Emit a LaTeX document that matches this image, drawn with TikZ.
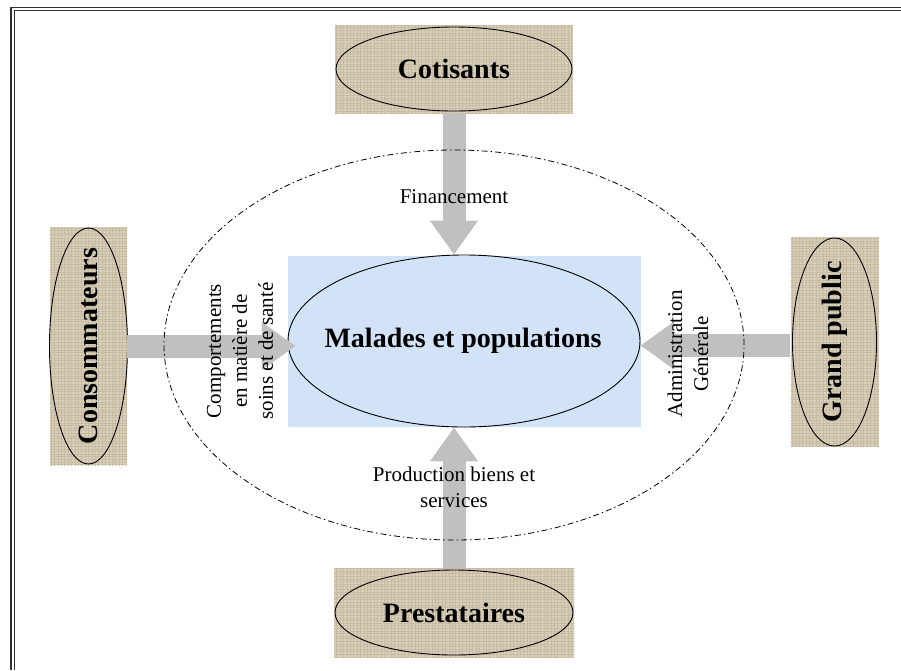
\documentclass[tikz,border=0pt]{standalone}
\usepackage{fontspec}
\setmainfont{Liberation Serif}
\usetikzlibrary{arrows.meta,shapes.geometric,patterns.meta}

\definecolor{burlap}{RGB}{218,208,186}
\definecolor{burlapdark}{RGB}{198,187,163}
\definecolor{paleblue}{RGB}{210,227,247}
\definecolor{flowgray}{RGB}{192,192,192}
\definecolor{framegray}{RGB}{50,50,50}

\tikzset{
  actorbox/.style={rectangle, fill=burlap, inner sep=0pt,
    postaction={pattern={Lines[angle=0,distance=2.6pt,line width=0.7pt]}, pattern color=burlapdark},
    postaction={pattern={Lines[angle=90,distance=3.4pt,line width=0.6pt]}, pattern color=burlapdark}},
  actorring/.style={ellipse, draw=black, line width=0.9pt, inner sep=0pt},
  bigword/.style={font=\fontsize{28}{32}\selectfont\bfseries, inner sep=0pt},
  corebox/.style={rectangle, fill=paleblue, inner sep=0pt},
  flow/.style={draw=flowgray, line width=23pt,
    -{Triangle[width=46pt,length=34pt]}},
  flowlabel/.style={align=center, font=\fontsize{21}{26}\selectfont, inner sep=0pt},
  scope ring/.style={draw=black, line width=0.8pt,
    dash pattern=on 6pt off 3pt on 1.5pt off 3pt},
}

\begin{document}
\begin{tikzpicture}[x=1pt, y=-1pt]
\useasboundingbox (0,0) rectangle (901,670);

% double frame along the top and left edges
\draw[framegray, line width=1.6pt] (11,670) -- (11,7.5) -- (901,7.5);
\draw[framegray, line width=1.6pt] (14.5,670) -- (14.5,10.5) -- (901,10.5);

% central node
\node[corebox, minimum width=353pt, minimum height=171pt] (core) at (464.5,341.5) {};
\node[actorring, minimum width=352pt, minimum height=172pt] (mal) at (464,341) {};
\node[bigword] (maltxt) at (463,341) {Malades et populations};

% surrounding actors
\node[actorbox, minimum width=238pt, minimum height=88pt] (cot) at (454,69) {};
\node[actorring, minimum width=236pt, minimum height=84pt] (cotring) at (cot) {};
\node[bigword] (cottxt) at (cot) {Cotisants};

\node[actorbox, minimum width=240pt, minimum height=89pt] (pre) at (454,612.5) {};
\node[actorring, minimum width=238pt, minimum height=85pt] (prering) at (pre) {};
\node[bigword] (pretxt) at (pre) {Prestataires};

\node[actorbox, minimum width=77pt, minimum height=238pt] (cons) at (88.5,346) {};
\node[actorring, minimum width=78pt, minimum height=236pt] (consring) at (cons) {};
\node[bigword, rotate=90] (constxt) at (cons) {Consommateurs};

\node[actorbox, minimum width=88pt, minimum height=210pt] (gp) at (834.5,342) {};
\node[actorring, minimum width=84pt, minimum height=208pt] (gpring) at (gp) {};
\node[bigword, rotate=90] (gptxt) at (gp) {Grand public};

% flows towards the central node
\draw[flow] (cot.south) -- (cot.south |- mal.north);
\draw[flow] (pre.north) -- (pre.north |- mal.south);
\draw[flow] (cons.east) -- ([xshift=8pt]cons.east -| mal.west);
\draw[flow] ([yshift=-3.5pt]gp.west) -- ([yshift=-3.5pt]gp.west -| mal.east);

% dash-dotted boundary of the system
\node[ellipse, scope ring, minimum width=580pt, minimum height=390pt, inner sep=0pt] (ring) at (454,345) {};

% flow labels
\node[flowlabel] (fin) at (454,197) {Financement};
\node[flowlabel] (prod) at (454,487) {Production biens et\\services};
\node[flowlabel, rotate=90] (comp) at (240,351) {Comportements\\en matière de\\soins et de santé};
\node[flowlabel, rotate=90] (adm) at (688,354) {Administration\\Générale};
\end{tikzpicture}
\end{document}
